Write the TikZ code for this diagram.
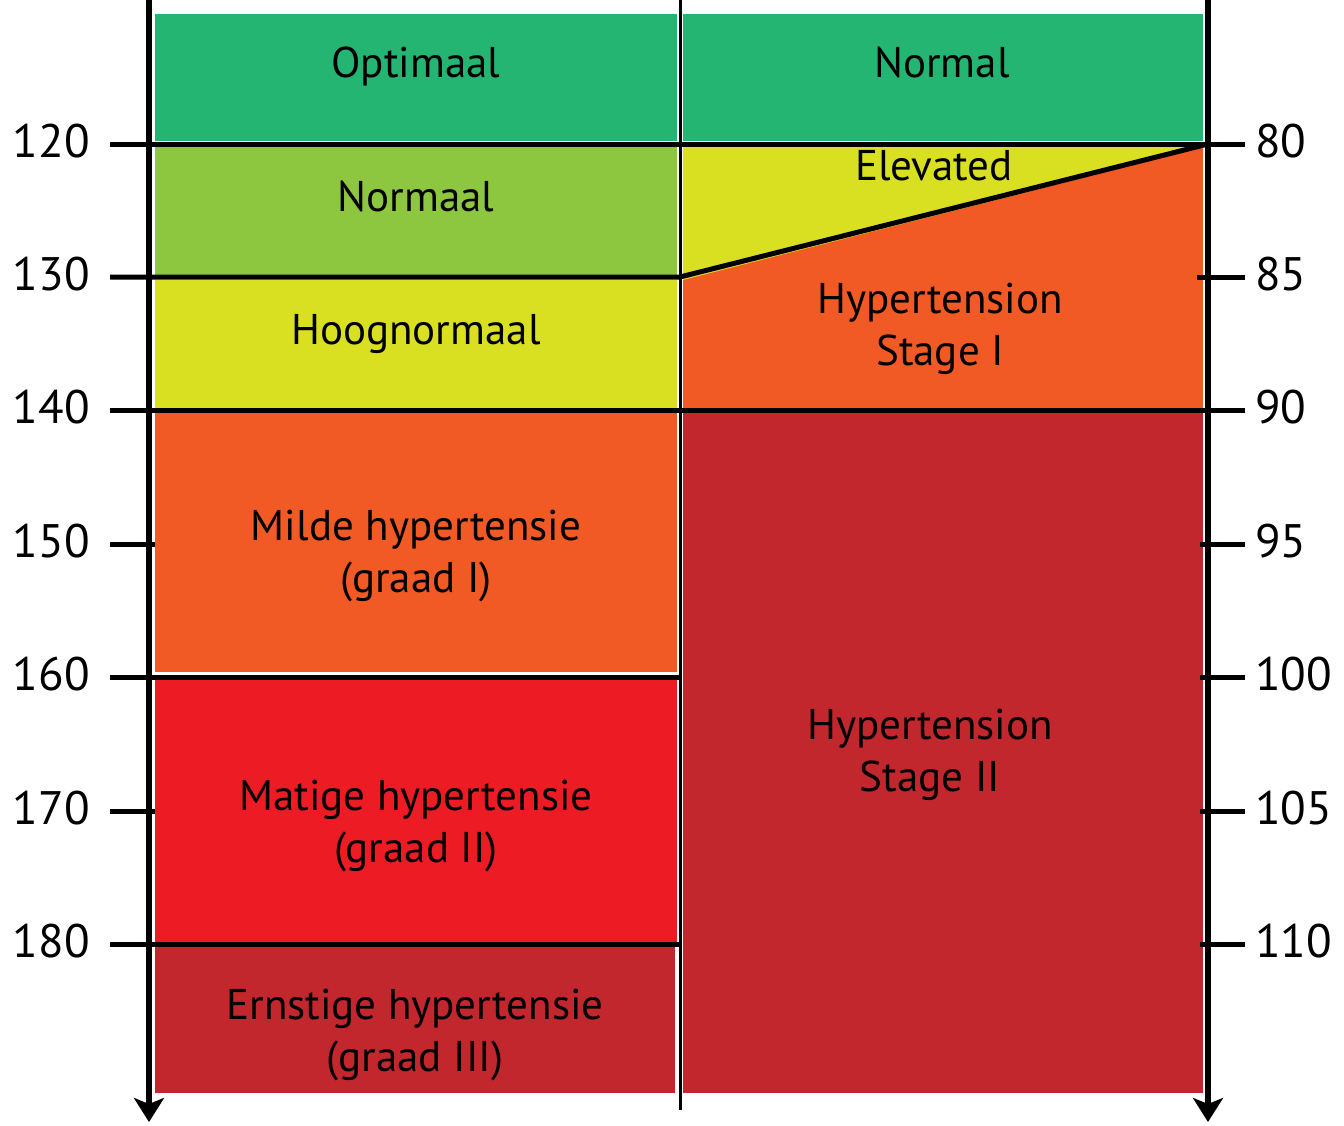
\documentclass[tikz,border=0pt]{standalone}
\usepackage{fontspec}
\setmainfont{PT Sans}
\usetikzlibrary{arrows.meta}
\definecolor{cgreen}{HTML}{25B573}
\definecolor{clgreen}{HTML}{8DC63F}
\definecolor{cyellow}{HTML}{D9E021}
\definecolor{corange}{HTML}{F15A24}
\definecolor{cred}{HTML}{ED1C24}
\definecolor{cdred}{HTML}{C1272D}
\begin{document}
\begin{tikzpicture}[x=1pt,y=-1pt,
  lbl/.style={font=\fontsize{43}{52}\selectfont, align=center, inner sep=0pt, anchor=base},
  num/.style={font=\fontsize{47}{47}\selectfont, inner sep=0pt},
  axisline/.style={line width=5.5pt, -{Stealth[length=24pt,width=30pt,inset=6pt]}},
  grid/.style={line width=5pt},
  midline/.style={line width=3pt}]
\useasboundingbox (0,0) rectangle (1344,1125);
% left column bands
\fill[cgreen]  (155,14) rectangle (677,141);
\fill[clgreen] (155,147) rectangle (677,275);
\fill[cyellow] (155,280) rectangle (677,408);
\fill[corange] (155,413) rectangle (677,672);
\fill[cred]    (155,680) rectangle (677,942);
\fill[cdred]   (155,947) rectangle (675,1093);
% right column bands
\fill[cgreen]  (683,14) rectangle (1203,141);
\fill[corange] (683,147) rectangle (1203,408);
\fill[cyellow] (683,147) -- (1203,147) -- (683,280) -- cycle;
\fill[cdred]   (683,413) rectangle (1203,1093);
% axes
\draw[axisline] (149,0) -- (149,1122);
\draw[axisline] (1208,0) -- (1208,1122);
\draw[midline] (680,0) -- (680,1110);
% horizontal lines and ticks
\draw[grid] (110,144) -- (1245,144);
\draw[grid, line join=round] (110,277) -- (680,277) -- (1208,144);
\draw[grid] (110,410) -- (1245,410);
\draw[grid] (110,544) -- (155,544);
\draw[grid] (110,677) -- (680,677);
\draw[grid] (110,811) -- (155,811);
\draw[grid] (110,944) -- (680,944);
\draw[grid] (1197,277) -- (1245,277);
\draw[grid] (1200,544) -- (1245,544);
\draw[grid] (1200,677) -- (1245,677);
\draw[grid] (1200,811) -- (1245,811);
\draw[grid] (1200,944) -- (1245,944);
% left numbers
\node[num, anchor=base east] (l120) at (90,157) {120};
\node[num, anchor=base east] (l130) at (90,290) {130};
\node[num, anchor=base east] (l140) at (90,423) {140};
\node[num, anchor=base east] (l150) at (90,557) {150};
\node[num, anchor=base east] (l160) at (90,690) {160};
\node[num, anchor=base east] (l170) at (90,824) {170};
\node[num, anchor=base east] (l180) at (90,957) {180};
% right numbers
\node[num, anchor=base west] (r80) at (1255,157) {80};
\node[num, anchor=base west] (r85) at (1255,290) {85};
\node[num, anchor=base west] (r90) at (1255,423) {90};
\node[num, anchor=base west] (r95) at (1255,557) {95};
\node[num, anchor=base west] (r100) at (1255,690) {100};
\node[num, anchor=base west] (r105) at (1255,824) {105};
\node[num, anchor=base west] (r110) at (1255,957) {110};
% left labels
\node[lbl] (optimaal) at (416,77) {Optimaal};
\node[lbl] (normaal) at (416,211) {Normaal};
\node[lbl] (hoog) at (416,344) {Hoognormaal};
\node[lbl] (milde) at (416,592) {Milde hypertensie\\(graad I)};
\node[lbl] (matige) at (416,862) {Matige hypertensie\\(graad II)};
\node[lbl] (ernstige) at (415,1071) {Ernstige hypertensie\\(graad III)};
% right labels
\node[lbl] (normal) at (942,77) {Normal};
\node[lbl] (elevated) at (934,180) {Elevated};
\node[lbl] (stage1) at (940,365) {Hypertension\\Stage I};
\node[lbl] (stage2) at (930,791) {Hypertension\\Stage II};
\end{tikzpicture}
\end{document}
